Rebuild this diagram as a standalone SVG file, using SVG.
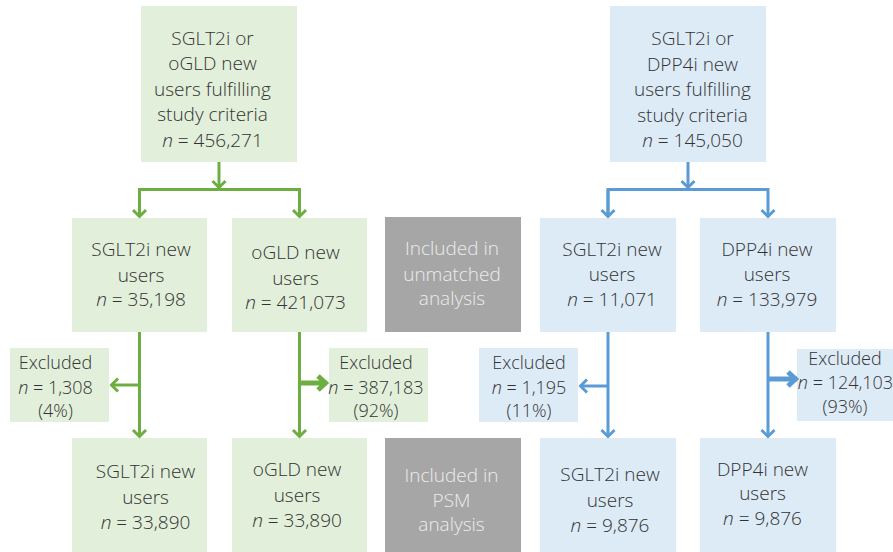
<svg xmlns="http://www.w3.org/2000/svg" width="893" height="552" viewBox="0 0 893 552">
<style>
text{font-family:"Open Sans","Liberation Sans",sans-serif;font-weight:300;font-size:19px;fill:#333333;text-anchor:middle}
text.s{font-size:18px}
.g{fill:#e2efda}.b{fill:#ddebf7}.gr{fill:#a6a6a6}
text.w{fill:#ececec}
.i{font-style:italic}
.lg{fill:none;stroke:#6cae40;stroke-width:3}
.lb{fill:none;stroke:#5b9bd5;stroke-width:3}
.tg{fill:none;stroke:#6cae40;stroke-width:5}
.tb{fill:none;stroke:#5b9bd5;stroke-width:5}
</style>
<defs>
<marker id="ag" viewBox="-10 -10 20 20" markerWidth="20" markerHeight="20" markerUnits="userSpaceOnUse" orient="auto"><path d="M-7,-6.5 L-0.5,0 L-7,6.5" fill="none" stroke="#6cae40" stroke-width="3"/></marker>
<marker id="ab" viewBox="-10 -10 20 20" markerWidth="20" markerHeight="20" markerUnits="userSpaceOnUse" orient="auto"><path d="M-7,-6.5 L-0.5,0 L-7,6.5" fill="none" stroke="#5b9bd5" stroke-width="3"/></marker>
<marker id="agt" viewBox="-12 -12 24 24" markerWidth="24" markerHeight="24" markerUnits="userSpaceOnUse" orient="auto"><path d="M-9,-7 L-1.5,0 L-9,7" fill="none" stroke="#6cae40" stroke-width="5"/></marker>
<marker id="abt" viewBox="-12 -12 24 24" markerWidth="24" markerHeight="24" markerUnits="userSpaceOnUse" orient="auto"><path d="M-9,-7 L-1.5,0 L-9,7" fill="none" stroke="#5b9bd5" stroke-width="5"/></marker>
</defs>

<g id="tl"><rect class="g" x="141" y="6" width="156" height="156"/>
<text x="212.5" y="44.5">SGLT2i or</text><text x="212.5" y="70">oGLD new</text><text x="212.5" y="95.5">users fulfilling</text><text x="212.5" y="121">study criteria</text><text x="212.5" y="146.5"><tspan class="i">n</tspan> = 456,271</text></g>

<g id="tr"><rect class="b" x="610" y="6" width="156" height="156"/>
<text x="692.5" y="45">SGLT2i or</text><text x="692.5" y="70.5">DPP4i new</text><text x="692.5" y="96">users fulfilling</text><text x="692.5" y="121.5">study criteria</text><text x="692.5" y="147"><tspan class="i">n</tspan> = 145,050</text></g>

<g id="m1"><rect class="g" x="72" y="218" width="135" height="114"/>
<text x="141" y="256">SGLT2i new</text><text x="141" y="281.5">users</text><text x="141" y="306"><tspan class="i">n</tspan> = 35,198</text></g>

<g id="m2"><rect class="g" x="232" y="218" width="135" height="114"/>
<text x="295.5" y="259">oGLD new</text><text x="295.5" y="285">users</text><text x="295.5" y="309"><tspan class="i">n</tspan> = 421,073</text></g>

<g id="g1"><rect class="gr" x="385" y="217" width="136" height="115"/>
<text class="w" x="452" y="255">Included in</text><text class="w" x="452" y="281">unmatched</text><text class="w" x="452" y="305">analysis</text></g>

<g id="m3"><rect class="b" x="540" y="218" width="136" height="114"/>
<text x="612" y="256">SGLT2i new</text><text x="612" y="281">users</text><text x="612" y="306"><tspan class="i">n</tspan> = 11,071</text></g>

<g id="m4"><rect class="b" x="700" y="218" width="136" height="114"/>
<text x="767" y="256">DPP4i new</text><text x="767" y="281">users</text><text x="767" y="306"><tspan class="i">n</tspan> = 133,979</text></g>

<g id="e1"><rect class="g" x="10" y="348" width="99" height="74"/>
<text class="s" x="55.5" y="369">Excluded</text><text class="s" x="55.5" y="393.5"><tspan class="i">n</tspan> = 1,308</text><text class="s" x="55.5" y="416.5">(4%)</text></g>

<g id="e2"><rect class="g" x="329" y="348" width="99" height="74"/>
<text class="s" x="376" y="369">Excluded</text><text class="s" x="376" y="393.5"><tspan class="i">n</tspan> = 387,183</text><text class="s" x="376" y="416.5">(92%)</text></g>

<g id="e3"><rect class="b" x="479" y="348" width="99" height="74"/>
<text class="s" x="529" y="368.5">Excluded</text><text class="s" x="529" y="393.5"><tspan class="i">n</tspan> = 1,195</text><text class="s" x="529" y="417">(11%)</text></g>

<g id="e4"><rect class="b" x="797" y="349" width="96" height="72"/>
<text class="s" x="845" y="365">Excluded</text><text class="s" x="845.5" y="389"><tspan class="i">n</tspan> = 124,103</text><text class="s" x="845" y="413">(93%)</text></g>

<g id="b1"><rect class="g" x="72" y="438" width="135" height="114"/>
<text x="145.5" y="477.5">SGLT2i new</text><text x="145.5" y="504">users</text><text x="145.5" y="529"><tspan class="i">n</tspan> = 33,890</text></g>

<g id="b2"><rect class="g" x="232" y="438" width="135" height="114"/>
<text x="297" y="475.5">oGLD new</text><text x="297" y="501.5">users</text><text x="297" y="526.5"><tspan class="i">n</tspan> = 33,890</text></g>

<g id="g2"><rect class="gr" x="385" y="438" width="136" height="114"/>
<text class="w" x="451.5" y="481.5">Included in</text><text class="w" x="451.5" y="506.5">PSM</text><text class="w" x="451.5" y="530.5">analysis</text></g>

<g id="b3"><rect class="b" x="540" y="438" width="136" height="114"/>
<text x="610" y="480.5">SGLT2i new</text><text x="610" y="506.5">users</text><text x="610" y="531.5"><tspan class="i">n</tspan> = 9,876</text></g>

<g id="b4"><rect class="b" x="700" y="438" width="136" height="114"/>
<text x="762.5" y="475.5">DPP4i new</text><text x="762.5" y="500">users</text><text x="762.5" y="525"><tspan class="i">n</tspan> = 9,876</text></g>

<g id="connectors">
<path class="lg" d="M219,162 V188" marker-end="url(#ag)"/>
<path class="lg" d="M139.5,217 V189.5 H299.5 V217" marker-end="url(#ag)"/>
<path class="lg" d="M139.5,190 V217" marker-end="url(#ag)"/>
<path class="lg" d="M139.5,332 V437" marker-end="url(#ag)"/>
<path class="lg" d="M139.5,385 H111" marker-end="url(#ag)"/>
<path class="lg" d="M299.5,332 V437" marker-end="url(#ag)"/>
<path class="tg" d="M299.5,383 H327" marker-end="url(#agt)"/>
<path class="lb" d="M688,162 V188" marker-end="url(#ab)"/>
<path class="lb" d="M608,217 V189.5 H768 V217" marker-end="url(#ab)"/>
<path class="lb" d="M608,190 V217" marker-end="url(#ab)"/>
<path class="lb" d="M608,332 V437" marker-end="url(#ab)"/>
<path class="lb" d="M608,386 H580" marker-end="url(#ab)"/>
<path class="lb" d="M768,332 V437" marker-end="url(#ab)"/>
<path class="tb" d="M768,379 H797" marker-end="url(#abt)"/>
</g>
</svg>
